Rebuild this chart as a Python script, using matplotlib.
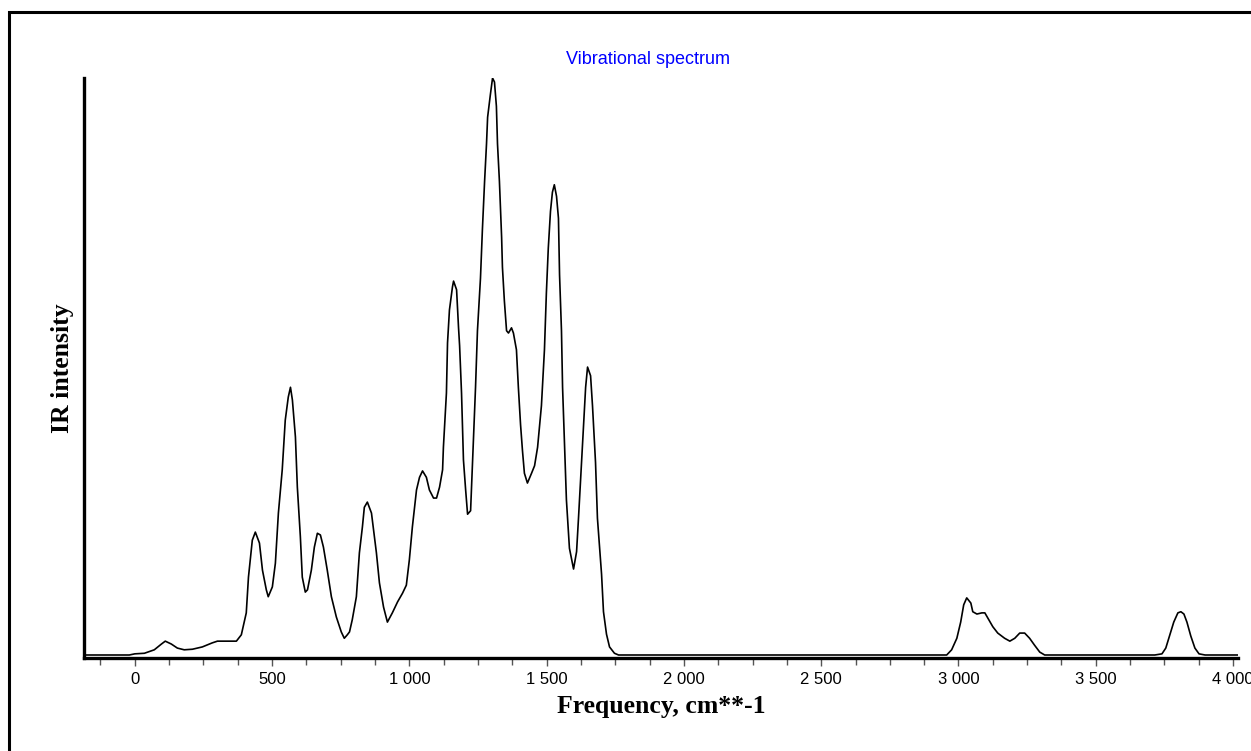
import matplotlib
matplotlib.use("Agg")
import matplotlib.pyplot as plt
from matplotlib.patches import Rectangle
from matplotlib.ticker import MultipleLocator, FuncFormatter

# Spectrum (frequency in cm**-1, relative IR intensity)
freq = [-185, -20, 0, 35, 71, 97, 111, 133, 155, 180, 210, 246, 282, 301, 370, 388,
        406, 414, 428, 439, 454, 465, 479, 486, 501, 512, 523, 537, 548, 559, 567,
        574, 585, 592, 603, 610, 621, 629, 643, 654, 665, 676, 687, 701, 716, 734,
        752, 763, 774, 782, 792, 807, 818, 829, 836, 847, 862, 880, 891, 906, 920,
        938, 957, 975, 989, 1000, 1011, 1026, 1037, 1048, 1062, 1073, 1088, 1099,
        1110, 1121, 1124, 1135, 1139, 1146, 1157, 1161, 1172, 1179, 1183, 1190,
        1197, 1205, 1212, 1223, 1230, 1241, 1248, 1259, 1266, 1274, 1281, 1285,
        1295, 1303, 1310, 1317, 1321, 1328, 1336, 1339, 1346, 1354, 1361, 1372,
        1379, 1390, 1397, 1405, 1412, 1419, 1430, 1445, 1456, 1467, 1481, 1492,
        1499, 1506, 1514, 1521, 1528, 1536, 1543, 1547, 1554, 1558, 1565, 1572,
        1583, 1594, 1598, 1609, 1616, 1627, 1634, 1642, 1649, 1660, 1667, 1678,
        1685, 1700, 1707, 1718, 1729, 1747, 1762, 2957, 2975, 2994, 3008, 3019,
        3030, 3045, 3052, 3067, 3085, 3096, 3107, 3125, 3143, 3168, 3187, 3205,
        3223, 3241, 3259, 3277, 3296, 3314, 3715, 3741, 3755, 3770, 3784, 3799,
        3810, 3821, 3832, 3846, 3861, 3876, 3898, 4015]
intensity = [0, 0, 0.002, 0.003, 0.009, 0.019, 0.024, 0.019, 0.012, 0.009, 0.010,
             0.014, 0.021, 0.024, 0.024, 0.035, 0.073, 0.135, 0.199, 0.213, 0.194,
             0.147, 0.113, 0.101, 0.118, 0.159, 0.246, 0.321, 0.407, 0.447, 0.464,
             0.442, 0.378, 0.291, 0.205, 0.135, 0.109, 0.113, 0.147, 0.187, 0.211,
             0.208, 0.187, 0.147, 0.101, 0.066, 0.040, 0.029, 0.035, 0.040, 0.061,
             0.101, 0.177, 0.222, 0.256, 0.265, 0.246, 0.177, 0.125, 0.083, 0.057,
             0.073, 0.092, 0.107, 0.121, 0.165, 0.222, 0.286, 0.308, 0.319, 0.308,
             0.286, 0.272, 0.272, 0.291, 0.321, 0.360, 0.454, 0.541, 0.598, 0.638,
             0.648, 0.633, 0.568, 0.536, 0.454, 0.338, 0.286, 0.244, 0.250, 0.334,
             0.464, 0.562, 0.653, 0.737, 0.821, 0.886, 0.932, 0.971, 1.000, 0.993,
             0.951, 0.886, 0.821, 0.724, 0.672, 0.614, 0.562, 0.558, 0.567, 0.558,
             0.529, 0.464, 0.399, 0.354, 0.315, 0.298, 0.315, 0.328, 0.360, 0.432,
             0.529, 0.627, 0.705, 0.769, 0.802, 0.815, 0.795, 0.757, 0.659, 0.562,
             0.464, 0.367, 0.269, 0.185, 0.159, 0.149, 0.179, 0.237, 0.334, 0.399,
             0.464, 0.499, 0.484, 0.432, 0.334, 0.237, 0.140, 0.075, 0.036, 0.014,
             0.003, 0, 0, 0.009, 0.029, 0.057, 0.087, 0.099, 0.090, 0.075, 0.071,
             0.073, 0.073, 0.064, 0.049, 0.038, 0.029, 0.024, 0.029, 0.038, 0.038,
             0.029, 0.017, 0.005, 0, 0, 0.002, 0.012, 0.035, 0.057, 0.073, 0.075,
             0.071, 0.057, 0.033, 0.012, 0.002, 0, 0]

major_ticks = [0, 500, 1000, 1500, 2000, 2500, 3000, 3500, 4000]

title_text = "Vibrational spectrum"
xlabel_text = "Frequency, cm**-1"
ylabel_text = "IR intensity"

fig = plt.figure(figsize=(12.51, 7.51), dpi=100)
fig.patch.set_facecolor("white")

# outer frame (extends beyond right/bottom edge)
W, H = 1251.0, 751.0
frame = Rectangle((9 / W, -0.2), 1.5, (H - 12) / H + 0.2, transform=fig.transFigure,
                  fill=False, edgecolor="black", linewidth=2.2, clip_on=False)
fig.patches.append(frame)

ax = fig.add_axes([84 / W, (H - 658) / H, (1238 - 84) / W, (658 - 78) / H])
ax.plot(freq, intensity, color="black", linewidth=1.2)

ax.set_xlim(-185, 4018)
ax.set_ylim(-0.0052, 1.0)

for s in ("top", "right"):
    ax.spines[s].set_visible(False)
ax.spines["left"].set_linewidth(2.4)
ax.spines["bottom"].set_linewidth(2.4)

ax.set_yticks([])
ax.xaxis.set_minor_locator(MultipleLocator(125))
ax.set_xticks(major_ticks)
ax.xaxis.set_major_formatter(FuncFormatter(lambda v, p: f"{int(round(v)):,}".replace(",", " ")))
ax.tick_params(axis="x", which="major", direction="out", length=6, width=1,
               color="#555555", pad=4, labelsize=12)
ax.tick_params(axis="x", which="minor", direction="out", length=5, width=1,
               color="#555555")
for lbl in ax.get_xticklabels():
    lbl.set_fontfamily("Liberation Sans")

ax.set_xlabel(xlabel_text, fontfamily="Liberation Serif", fontweight="bold",
              fontsize=18.5, labelpad=6)
ax.set_ylabel(ylabel_text, fontfamily="Liberation Serif", fontweight="bold",
              fontsize=18.5, labelpad=7)

fig.text(648 / W, 1 - 59.5 / H, title_text, color="#0000ff", fontsize=13,
         fontfamily="Liberation Sans", ha="center", va="center")

fig.savefig("out.png", dpi=100, facecolor="white")
